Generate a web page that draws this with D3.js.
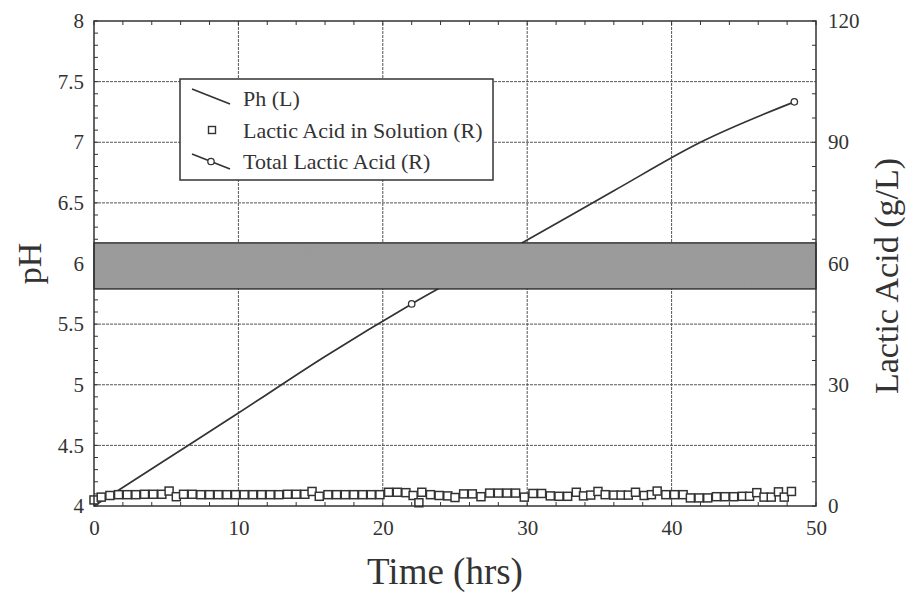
<!DOCTYPE html>
<html>
<head>
<meta charset="utf-8">
<script src="https://cdn.jsdelivr.net/npm/d3@7"></script>
<style>
  body { margin: 0; background: #fff; }
  text { font-family: "Liberation Serif", "DejaVu Serif", serif; fill: #333; }
</style>
</head>
<body>
<script>
// data
const totalTime = [0, 5, 10, 16, 22, 29.6, 36, 42, 48.5];
const totalLactic = [0, 11.5, 23, 37, 50, 65, 78, 90, 100];
const totalMarkers = [22, 48.5];           // only these samples carry circles

const phTime = [0, 48.5];
const phValue = [6.0, 6.0];                // hidden behind the control band
const phBand = [5.79, 6.17];

const solTime = [0.0, 0.5, 1.1, 1.7, 2.3, 2.9, 3.5, 4.1, 4.7, 5.2, 5.7, 6.2, 6.8, 7.4, 8.0, 8.6,
  9.2, 9.8, 10.4, 11.0, 11.6, 12.2, 12.8, 13.4, 14.0, 14.6, 15.1, 15.6, 16.2, 16.8, 17.4, 18.0,
  18.6, 19.2, 19.8, 20.4, 21.0, 21.6, 22.1, 22.5, 22.7, 23.3, 23.9, 24.5, 25.0, 25.6, 26.2, 26.8,
  27.4, 28.0, 28.6, 29.2, 29.8, 30.4, 31.0, 31.6, 32.2, 32.8, 33.4, 33.9, 34.4, 34.9, 35.4, 36.0,
  36.5, 37.0, 37.5, 38.1, 38.6, 39.0, 39.6, 40.2, 40.8, 41.3, 41.9, 42.5, 43.1, 43.7, 44.3, 44.9,
  45.4, 45.9, 46.4, 46.9, 47.4, 47.8, 48.3];
const solLactic = [1.5, 2.2, 2.6, 2.8, 2.8, 2.8, 2.9, 2.9, 2.9, 3.7, 2.3, 2.9, 2.9, 2.8, 2.8, 2.8,
  2.8, 2.8, 2.8, 2.8, 2.8, 2.8, 2.8, 2.9, 2.9, 2.9, 3.6, 2.4, 2.8, 2.8, 2.8, 2.8,
  2.8, 2.8, 2.8, 3.4, 3.4, 3.3, 2.6, 0.8, 3.4, 2.8, 2.6, 2.5, 2.1, 3.0, 3.0, 2.3,
  3.2, 3.2, 3.2, 3.2, 2.2, 3.1, 3.1, 2.5, 2.4, 2.4, 3.4, 2.5, 2.7, 3.6, 2.8, 2.7,
  2.7, 2.7, 3.4, 2.6, 2.8, 3.7, 2.8, 2.8, 2.8, 2.0, 2.0, 2.0, 2.3, 2.3, 2.3, 2.4,
  2.4, 3.3, 2.2, 2.2, 3.5, 2.2, 3.6];

const xTicks = [0, 10, 20, 30, 40, 50];
const phTicks = [4, 4.5, 5, 5.5, 6, 6.5, 7, 7.5, 8];
const lacticTicks = [0, 30, 60, 90, 120];
const legendLabels = ["Ph (L)", "Lactic Acid in Solution (R)", "Total Lactic Acid (R)"];

const W = 911, H = 596;
const margin = {left: 94, right: 95, top: 21, bottom: 90};
const ink = "#333";
const serif = "'Liberation Serif', 'DejaVu Serif', serif";

const svg = d3.select("body").append("svg")
    .attr("width", W)
    .attr("height", H);

// faint paper-like grain for the control band
const flt = svg.append("defs").append("filter").attr("id", "grain")
    .attr("x", 0).attr("y", 0).attr("width", 1).attr("height", 1);
flt.append("feTurbulence").attr("type", "fractalNoise").attr("baseFrequency", 0.9)
    .attr("numOctaves", 2).attr("seed", 3).attr("result", "n");
flt.append("feColorMatrix").attr("in", "n").attr("type", "matrix")
    .attr("values", "0 0 0 0 0.35  0 0 0 0 0.35  0 0 0 0 0.35  0 0 0 0.35 0").attr("result", "g");
flt.append("feComposite").attr("in", "g").attr("in2", "SourceGraphic").attr("operator", "in").attr("result", "gc");
const mg = flt.append("feMerge");
mg.append("feMergeNode").attr("in", "SourceGraphic");
mg.append("feMergeNode").attr("in", "gc");

const x = d3.scaleLinear().domain([0, 50]).range([margin.left, W - margin.right]);
const yL = d3.scaleLinear().domain([4, 8]).range([H - margin.bottom, margin.top]);
const yR = d3.scaleLinear().domain([0, 120]).range([H - margin.bottom, margin.top]);

// grid
const grid = svg.append("g").attr("stroke", "#555").attr("stroke-width", 1).attr("stroke-dasharray", "3,1");
grid.selectAll(".gx").data(xTicks.slice(1, -1)).enter().append("line")
    .attr("x1", d => x(d)).attr("x2", d => x(d))
    .attr("y1", yL(4)).attr("y2", yL(8));
grid.selectAll(".gy").data(phTicks.slice(1, -1)).enter().append("line")
    .attr("x1", x(0)).attr("x2", x(50))
    .attr("y1", d => yL(d)).attr("y2", d => yL(d));

// minor ticks, inward
const minor = svg.append("g").attr("stroke", ink).attr("stroke-width", 1);
d3.range(0, 51, 2).forEach(t => {
  minor.append("line").attr("x1", x(t)).attr("x2", x(t)).attr("y1", yL(4)).attr("y2", yL(4) - 4);
  minor.append("line").attr("x1", x(t)).attr("x2", x(t)).attr("y1", yL(8)).attr("y2", yL(8) + 4);
});
d3.range(4, 8.01, 0.1).forEach(p => {
  minor.append("line").attr("x1", x(0)).attr("x2", x(0) + 4).attr("y1", yL(p)).attr("y2", yL(p));
});
d3.range(0, 121, 6).forEach(v => {
  minor.append("line").attr("x1", x(50)).attr("x2", x(50) - 4).attr("y1", yR(v)).attr("y2", yR(v));
});

// lines
const phLine = d3.line().x(d => x(d[0])).y(d => yL(d[1]));
svg.append("path")
    .datum(phTime.map((t, i) => [t, phValue[i]]))
    .attr("d", phLine)
    .attr("fill", "none").attr("stroke", ink).attr("stroke-width", 1.5);

const totLine = d3.line().curve(d3.curveMonotoneX).x(d => x(d[0])).y(d => yR(d[1]));
const totData = totalTime.map((t, i) => [t, totalLactic[i]]);
svg.append("path")
    .datum(totData)
    .attr("d", totLine)
    .attr("fill", "none").attr("stroke", ink).attr("stroke-width", 1.7);

svg.selectAll(".tm").data(totData.filter(d => totalMarkers.includes(d[0]))).enter().append("circle")
    .attr("cx", d => x(d[0])).attr("cy", d => yR(d[1])).attr("r", 3.2)
    .attr("fill", "#fff").attr("stroke", ink).attr("stroke-width", 1.3);

// squares
const sq = 8;
svg.selectAll(".sq").data(solTime.map((t, i) => [t, solLactic[i]])).enter().append("rect")
    .attr("x", d => x(d[0]) - sq / 2).attr("y", d => yR(d[1]) - sq / 2)
    .attr("width", sq).attr("height", sq)
    .attr("fill", "#fff").attr("stroke", ink).attr("stroke-width", 1.5);

// pH control band
svg.append("rect")
    .attr("x", x(0)).attr("width", x(50) - x(0))
    .attr("y", yL(phBand[1])).attr("height", yL(phBand[0]) - yL(phBand[1]))
    .attr("fill", "#9a9a9a").attr("filter", "url(#grain)");
svg.append("rect")
    .attr("x", x(0)).attr("width", x(50) - x(0))
    .attr("y", yL(phBand[1])).attr("height", yL(phBand[0]) - yL(phBand[1]))
    .attr("fill", "none").attr("stroke", "#222").attr("stroke-width", 1.3);

// frame
svg.append("rect")
    .attr("x", x(0)).attr("y", yL(8))
    .attr("width", x(50) - x(0)).attr("height", yL(4) - yL(8))
    .attr("fill", "none").attr("stroke", ink).attr("stroke-width", 1.5);

// tick labels (frame drawn above)
function styleAxis(g) {
  g.select(".domain").remove();
  g.attr("font-family", serif).attr("font-size", 21);
  g.selectAll("text").attr("fill", ink);
}
svg.append("g").attr("transform", `translate(0,${yL(4)})`)
    .call(d3.axisBottom(x).tickValues(xTicks).tickSize(0).tickPadding(14))
    .call(styleAxis);
svg.append("g").attr("transform", `translate(${x(0)},0)`)
    .call(d3.axisLeft(yL).tickValues(phTicks).tickFormat(d3.format("")).tickSize(0).tickPadding(10))
    .call(styleAxis);
svg.append("g").attr("transform", `translate(${x(50)},0)`)
    .call(d3.axisRight(yR).tickValues(lacticTicks).tickSize(0).tickPadding(12))
    .call(styleAxis);

// titles
svg.append("text").attr("x", 445).attr("y", 584)
    .attr("text-anchor", "middle").style("font-size", "37px").text("Time (hrs)");
svg.append("text").attr("transform", `translate(41,${yL(6)}) rotate(-90)`)
    .attr("text-anchor", "middle").style("font-size", "34px").text("pH");
svg.append("text").attr("transform", `translate(898,276) rotate(-90)`)
    .attr("text-anchor", "middle").style("font-size", "34px").text("Lactic Acid (g/L)");

// legend
const lg = svg.append("g").attr("transform", "translate(180,79)");
lg.append("rect").attr("width", 313).attr("height", 101)
    .attr("fill", "#fff").attr("stroke", ink).attr("stroke-width", 1.5);
const rowY = [19, 51, 82];
lg.append("line").attr("x1", 12).attr("y1", rowY[0] - 9).attr("x2", 50).attr("y2", rowY[0] + 6)
    .attr("stroke", ink).attr("stroke-width", 1.7);
lg.append("rect").attr("x", 32 - 3.5).attr("y", rowY[1] - 3.5).attr("width", 7).attr("height", 7)
    .attr("fill", "#fff").attr("stroke", ink).attr("stroke-width", 1.4);
lg.append("line").attr("x1", 12).attr("y1", rowY[2] - 7).attr("x2", 50).attr("y2", rowY[2] + 8)
    .attr("stroke", ink).attr("stroke-width", 1.7);
lg.append("circle").attr("cx", 31).attr("cy", rowY[2] + 0.5).attr("r", 3.2)
    .attr("fill", "#fff").attr("stroke", ink).attr("stroke-width", 1.3);
lg.selectAll(".lt").data(legendLabels).enter().append("text")
    .attr("x", 63).attr("y", (d, i) => rowY[i]).attr("dy", "0.35em")
    .style("font-size", "22px").text(d => d);
</script>
</body>
</html>
